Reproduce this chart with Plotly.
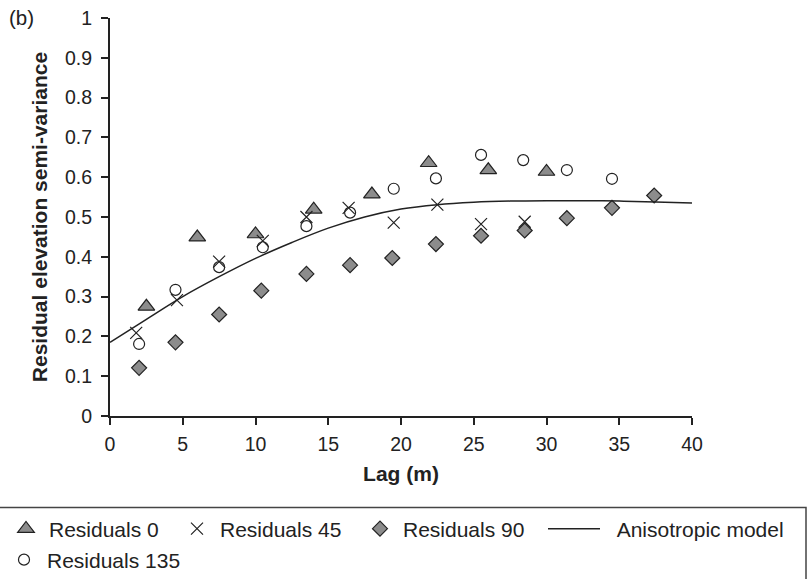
import plotly.graph_objects as go

# Experimental semi-variance of residual elevation by direction
lag_0 = [2.5, 6.0, 10.0, 14.0, 18.0, 21.9, 26.0, 30.0]
sv_0 = [0.275, 0.449, 0.457, 0.519, 0.557, 0.636, 0.618, 0.614]

lag_45 = [1.8, 4.6, 7.5, 10.5, 13.5, 16.4, 19.5, 22.5, 25.5, 28.5]
sv_45 = [0.209, 0.291, 0.388, 0.440, 0.500, 0.523, 0.486, 0.531, 0.482, 0.488]

lag_90 = [2.0, 4.5, 7.5, 10.4, 13.5, 16.5, 19.4, 22.4, 25.5, 28.5, 31.4, 34.5, 37.4]
sv_90 = [0.121, 0.185, 0.255, 0.315, 0.357, 0.379, 0.397, 0.432, 0.453, 0.466, 0.497, 0.523, 0.554]

lag_135 = [2.0, 4.5, 7.5, 10.5, 13.5, 16.5, 19.5, 22.4, 25.5, 28.4, 31.4, 34.5]
sv_135 = [0.181, 0.317, 0.374, 0.424, 0.477, 0.511, 0.571, 0.597, 0.656, 0.643, 0.618, 0.596]

# Fitted anisotropic variogram model
model_lag = [0, 2.5, 5, 7.5, 10, 12.5, 15, 17.5, 20, 22.5, 25, 27.5, 30, 32.5, 35, 37.5, 40]
model_sv = [0.185, 0.243, 0.300, 0.350, 0.396, 0.436, 0.472, 0.500, 0.520, 0.531,
            0.537, 0.540, 0.541, 0.541, 0.540, 0.538, 0.535]

FONT = "Liberation Sans, Arial, sans-serif"
INK = "#222222"
GREY = "#8c8c8c"

W, H = 807, 579
ML, MR, MT, MB = 110, 115, 18, 163
PW, PH = W - ML - MR, H - MT - MB


def px_x(p):
    return (p - ML) / PW


def px_y(p):
    return (H - MB - p) / PH


def cx(p):
    return p / W


def cy(p):
    return 1 - p / H


fig = go.Figure()

fig.add_trace(go.Scatter(
    x=lag_0, y=sv_0, mode="markers", name="Residuals 0", legend="legend",
    marker=dict(symbol="triangle-up", size=14.5, color=GREY,
                line=dict(color=INK, width=1.2)),
))
fig.add_trace(go.Scatter(
    x=lag_45, y=sv_45, mode="markers", name="Residuals 45", legend="legend2",
    marker=dict(symbol="x-thin-open", size=12, color=INK,
                line=dict(color=INK, width=1.2)),
))
fig.add_trace(go.Scatter(
    x=lag_90, y=sv_90, mode="markers", name="Residuals 90", legend="legend3",
    marker=dict(symbol="diamond", size=11.5, color=GREY,
                line=dict(color=INK, width=1.2)),
))
fig.add_trace(go.Scatter(
    x=model_lag, y=model_sv, mode="lines", name="\u00a0\u00a0Anisotropic model",
    legend="legend4",
    line=dict(color=INK, width=1.5, shape="spline"),
))
fig.add_trace(go.Scatter(
    x=lag_135, y=sv_135, mode="markers", name="Residuals 135", legend="legend5",
    marker=dict(symbol="circle-open", size=11, color=INK,
                line=dict(color=INK, width=1.2)),
))

legend_common = dict(font=dict(family=FONT, size=21, color=INK),
                     bgcolor="rgba(0,0,0,0)", borderwidth=0,
                     xref="container", yref="container",
                     xanchor="left", yanchor="middle", orientation="h")

fig.update_layout(
    width=W, height=H,
    margin=dict(l=ML, r=MR, t=MT, b=MB, pad=0, autoexpand=False),
    paper_bgcolor="white", plot_bgcolor="white",
    font=dict(family=FONT, size=19.5, color=INK),
    showlegend=True,
    legend=dict(x=cx(3), y=cy(529), itemwidth=36, **legend_common),
    legend2=dict(x=cx(174), y=cy(529), itemwidth=36, **legend_common),
    legend3=dict(x=cx(357), y=cy(529), itemwidth=36, **legend_common),
    legend4=dict(x=cx(543), y=cy(529), itemwidth=52, **legend_common),
    legend5=dict(x=cx(1), y=cy(560), itemwidth=36, **legend_common),
    xaxis=dict(
        range=[0, 40], tickvals=[0, 5, 10, 15, 20, 25, 30, 35, 40],
        showgrid=False, zeroline=False, showline=True, linecolor=INK, linewidth=2,
        ticks="outside", ticklen=7, tickwidth=1.5, tickcolor=INK,
        tickfont=dict(family=FONT, size=19.5, color=INK),
        ticklabelstandoff=3,
        automargin=False,
        title=dict(text="<b>Lag (m)</b>", font=dict(family=FONT, size=21, color=INK),
                   standoff=12),
        fixedrange=True,
    ),
    yaxis=dict(
        range=[0, 1], tickvals=[0, 0.1, 0.2, 0.3, 0.4, 0.5, 0.6, 0.7, 0.8, 0.9, 1],
        ticktext=["0", "0.1", "0.2", "0.3", "0.4", "0.5", "0.6", "0.7", "0.8", "0.9", "1"],
        showgrid=False, zeroline=False, showline=True, linecolor=INK, linewidth=2,
        ticks="outside", ticklen=7, tickwidth=1.5, tickcolor=INK,
        tickfont=dict(family=FONT, size=19.5, color=INK),
        ticklabelstandoff=5,
        automargin=False,
        title=dict(text="<b>Residual elevation semi-variance</b>",
                   font=dict(family=FONT, size=21, color=INK), standoff=12),
        fixedrange=True,
    ),
    annotations=[dict(
        text="(b)", xref="paper", yref="paper", x=px_x(7), y=px_y(17),
        xanchor="left", yanchor="middle", showarrow=False,
        font=dict(family=FONT, size=20.5, color=INK),
    )],
    shapes=[dict(
        type="rect", xref="paper", yref="paper",
        x0=px_x(-3), x1=px_x(806), y0=px_y(507.5), y1=px_y(620),
        line=dict(color="#444444", width=1.5), fillcolor="rgba(0,0,0,0)",
        layer="below",
    )],
)

fig.write_html("out.html")
